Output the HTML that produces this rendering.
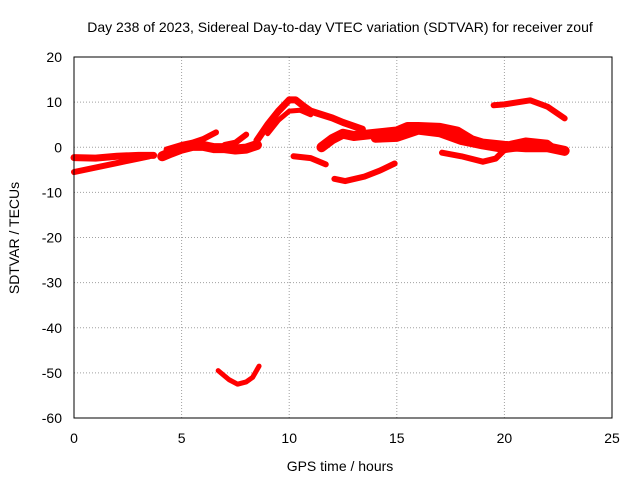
<!DOCTYPE html>
<html><head><meta charset="utf-8"><style>
body{margin:0;background:#fff;font-family:"Liberation Sans",sans-serif;}
svg text{font-family:"Liberation Sans",sans-serif;font-size:14px;fill:#000;}
</style></head><body>
<svg id="chart" width="640" height="480">
<text x="340" y="32" text-anchor="middle">Day 238 of 2023, Sidereal Day-to-day VTEC variation (SDTVAR) for receiver zouf</text>
<text x="340" y="471" text-anchor="middle">GPS time / hours</text>
<text transform="translate(19,238) rotate(-90)" text-anchor="middle">SDTVAR / TECUs</text>
<g id="grid"></g><g id="ticks"></g><g id="series"></g>
<rect x="74" y="57" width="538" height="361" fill="none" stroke="#000"/>
</svg>
<script>
const xTicks=[0,5,10,15,20,25];
const yTicks=[20,10,0,-10,-20,-30,-40,-50,-60];
const trackA1=[[0,-2.3],[1,-2.4],[2,-2],[3,-1.8],[3.7,-1.8]];
const trackA2=[[0,-5.5],[1,-4.5],[2,-3.5],[3,-2.5],[3.5,-2]];
const trackB=[[4.1,-2],[4.5,-1.2],[5,-0.3],[5.5,0.3],[6,0.3],[6.5,-0.2],[7,-0.2],[7.5,-0.5],[8,-0.3],[8.5,0.5]];
const trackB2=[[4.3,-0.5],[5,0.5],[5.5,1],[6,1.8],[6.6,3.3]];
const trackC=[[7,0.5],[7.5,1],[8,2.8]];
const trackD=[[8.5,1.5],[9,5],[9.5,8],[10,10.5],[10.3,10.5],[10.7,9],[11,8],[12,6.5],[12.5,5.5],[13.4,4]];
const trackD2=[[9,3],[9.5,6],[10,8],[10.5,8.2],[11,7.2]];
const trackE=[[10.2,-2],[11,-2.4],[11.7,-3.8]];
const trackF=[[12.1,-7],[12.6,-7.5],[13.5,-6.5],[14.2,-5.2],[14.9,-3.6]];
const trackG=[[11.5,0],[12,1.8],[12.5,3],[13,2.5],[14,3],[15,3.5],[15.5,4.5],[16,4.5],[17,4.3],[17.8,3.5],[18.5,1.5],[19,0.8],[20,0.3],[21,0],[22,0],[22.8,-0.8]];
const trackG2=[[14,2],[15,2.2],[16,3.8],[17,3.2],[18,1.5],[19,0.5],[20,-0.3],[21,0.3]];
const trackH=[[17.1,-1.2],[18,-2],[19,-3.2],[19.6,-2.5],[20.3,0.8],[21,1.5],[22,1],[22.5,-0.8]];
const trackI=[[19.5,9.3],[20,9.5],[21.2,10.4],[22,9],[22.8,6.4]];
const trackJ=[[6.7,-49.5],[7.2,-51.5],[7.6,-52.5],[8,-52],[8.3,-51],[8.6,-48.5]];
const tracks=[trackA1,trackA2,trackB,trackB2,trackC,trackD,trackD2,trackE,trackF,trackG,trackG2,trackH,trackI,trackJ];
const widths=[7,6,10,6,6,7,5,6,6,10,9,6,6,5];
const NS="http://www.w3.org/2000/svg";
const X=v=>74+(v-0)/25*538, Y=v=>57+(20-v)/80*361;
const grid=document.getElementById('grid'),ticks=document.getElementById('ticks'),ser=document.getElementById('series');
function mk(tag,at,parent){const e=document.createElementNS(NS,tag);for(const k in at)e.setAttribute(k,at[k]);parent.appendChild(e);return e;}
xTicks.forEach(t=>{
 const l=mk('line',{x1:X(t),x2:X(t),y1:57,y2:418,stroke:'#a0a0a0','stroke-dasharray':'1,2'},grid);
 
 
 const tx=mk('text',{x:X(t),y:443,'text-anchor':'middle'},ticks);tx.textContent=t;
 
 
});
yTicks.forEach(t=>{
 const l=mk('line',{x1:74,x2:612,y1:Y(t),y2:Y(t),stroke:'#a0a0a0','stroke-dasharray':'1,2'},grid);
 
 
 const tx=mk('text',{x:62,y:Y(t)+5,'text-anchor':'end'},ticks);tx.textContent=t;
 
 
});
tracks.forEach((tr,i)=>{
 const p=mk('polyline',{points:tr.map(d=>X(d[0])+','+Y(d[1])).join(' '),fill:'none',stroke:'#ff0000','stroke-width':widths[i],'stroke-linejoin':'round','stroke-linecap':'round'},ser);
 
 
});
</script>
</body></html>
